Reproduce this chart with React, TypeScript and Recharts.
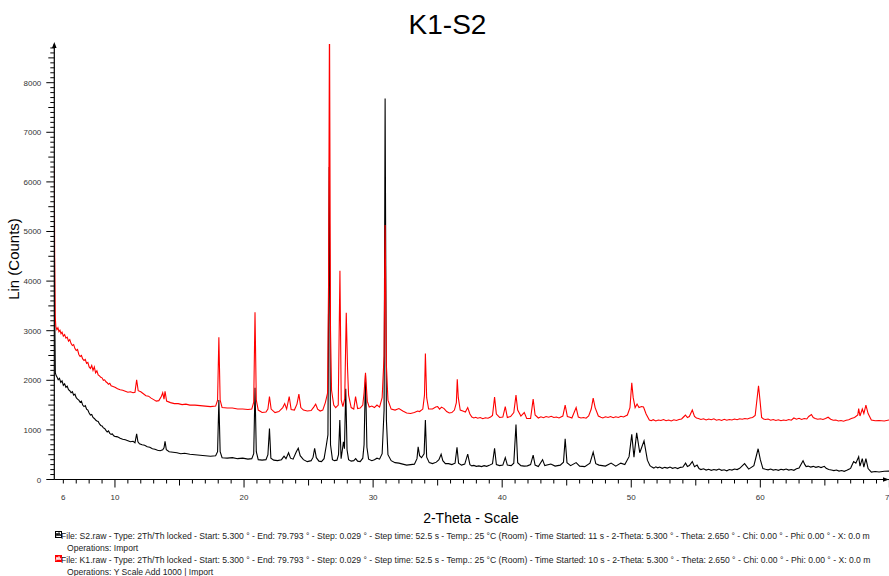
import React from "react";
import { LineChart, Line, XAxis, YAxis } from "recharts";

// ---- data ----
const TITLE = "K1-S2";
const X_LABEL = "2-Theta - Scale";
const Y_LABEL = "Lin (Counts)";
const X_TICK_LABELS = [6, 10, 20, 30, 40, 50, 60, 70];
const Y_TICK_LABELS = [0, 1000, 2000, 3000, 4000, 5000, 6000, 7000, 8000];
const X_DOMAIN: [number, number] = [5.3, 70];
const Y_DOMAIN: [number, number] = [0, 8780];

// S2.raw (black) : [2-theta, counts]
const S2_POINTS: [number, number][] = [
  [5.30, 5200], [5.34, 3200], [5.38, 2150], [5.45, 2090], [5.52, 2060], [5.60, 2010], [5.70, 2040],
  [5.80, 1960], [5.90, 1990], [6.00, 1900], [6.10, 1930], [6.20, 1860], [6.30, 1880], [6.40, 1810],
  [6.50, 1790], [6.60, 1750], [6.70, 1770], [6.80, 1700], [6.90, 1720], [7.00, 1650], [7.10, 1620],
  [7.20, 1600], [7.30, 1560], [7.40, 1580], [7.50, 1500], [7.60, 1470], [7.70, 1490], [7.80, 1420],
  [7.90, 1400], [8.00, 1340], [8.10, 1300], [8.20, 1310], [8.30, 1250], [8.40, 1230], [8.50, 1200],
  [8.60, 1180], [8.70, 1170], [8.80, 1120], [8.90, 1090], [9.00, 1080], [9.10, 1040], [9.20, 1030],
  [9.30, 990], [9.40, 960], [9.50, 980], [9.60, 930], [9.70, 910], [9.80, 920], [9.90, 880],
  [10.0, 870], [10.2, 860], [10.4, 830], [10.6, 810], [10.8, 800], [11.0, 780], [11.2, 760],
  [11.4, 770], [11.55, 740], [11.68, 920], [11.78, 760], [11.9, 720], [12.1, 700], [12.3, 690],
  [12.5, 660], [12.7, 650], [12.9, 620], [13.1, 610], [13.3, 590], [13.5, 580], [13.7, 600],
  [13.8, 640], [13.88, 770], [13.98, 600], [14.2, 560], [14.5, 550], [14.8, 540], [15.1, 520],
  [15.4, 530], [15.8, 510], [16.2, 500], [16.6, 490], [17.0, 480], [17.4, 470], [17.8, 480],
  [17.95, 560], [18.05, 1600], [18.15, 560], [18.3, 440], [18.7, 430], [19.1, 440], [19.5, 420],
  [19.9, 430], [20.3, 410], [20.6, 420], [20.75, 520], [20.85, 1850], [20.95, 560], [21.1, 400],
  [21.4, 390], [21.7, 400], [21.85, 500], [21.97, 1030], [22.08, 430], [22.3, 390], [22.6, 380],
  [22.9, 400], [23.1, 470], [23.25, 420], [23.45, 540], [23.6, 430], [23.8, 410], [24.05, 560],
  [24.2, 630], [24.35, 480], [24.6, 400], [24.9, 360], [25.2, 380], [25.35, 450], [25.47, 630],
  [25.6, 440], [25.8, 370], [26.0, 360], [26.2, 420], [26.37, 680], [26.5, 900], [26.6, 6300],
  [26.7, 700], [26.85, 400], [27.0, 380], [27.2, 390], [27.32, 500], [27.42, 1200], [27.52, 420],
  [27.62, 600], [27.7, 760], [27.78, 620], [27.88, 1830], [27.98, 600], [28.1, 400], [28.3, 370],
  [28.5, 380], [28.65, 420], [28.8, 370], [29.0, 360], [29.2, 430], [29.3, 700], [29.41, 2100],
  [29.52, 650], [29.65, 410], [29.9, 380], [30.1, 400], [30.3, 430], [30.5, 410], [30.7, 520],
  [30.85, 1400], [30.93, 7680], [31.03, 1200], [31.15, 500], [31.4, 380], [31.7, 340], [32.0, 330],
  [32.3, 310], [32.6, 290], [32.9, 300], [33.2, 310], [33.4, 420], [33.49, 660], [33.6, 480],
  [33.75, 440], [33.95, 520], [34.05, 1200], [34.15, 450], [34.35, 340], [34.6, 320], [34.9, 350],
  [35.1, 400], [35.27, 510], [35.4, 380], [35.6, 320], [35.85, 320], [36.1, 300], [36.35, 330],
  [36.5, 650], [36.62, 330], [36.85, 290], [37.1, 310], [37.33, 510], [37.5, 300], [37.65, 275],
  [37.8, 285], [38.0, 265], [38.2, 275], [38.4, 260], [38.6, 280], [38.8, 265], [39.0, 285],
  [39.25, 320], [39.41, 630], [39.55, 300], [39.8, 280],
  [40.05, 290], [40.24, 440], [40.4, 290], [40.7, 280], [40.9, 330], [41.07, 1110], [41.2, 340],
  [41.45, 280], [41.7, 270], [41.95, 275], [42.2, 300], [42.4, 490], [42.55, 290], [42.8, 260],
  [43.13, 400], [43.3, 280], [43.77, 312], [44.1, 270], [44.5, 290], [44.75, 350], [44.88, 820],
  [45.02, 340], [45.3, 280], [45.73, 340], [46.0, 270], [46.4, 260], [46.8, 330], [47.05, 550],
  [47.25, 320], [47.5, 290], [48.0, 270], [48.44, 330], [48.8, 270], [49.19, 330], [49.5, 300],
  [49.83, 460], [50.04, 910], [50.21, 450], [50.42, 940], [50.66, 540], [50.99, 780], [51.25, 390],
  [51.45, 280], [51.6, 250], [51.75, 230], [51.9, 255], [52.05, 235], [52.2, 250], [52.4, 225],
  [52.6, 245], [52.8, 230], [53.0, 250], [53.2, 225], [53.4, 240], [53.6, 220], [53.8, 245],
  [54.0, 250], [54.21, 330], [54.35, 260], [54.5, 280], [54.73, 360], [54.9, 260], [55.1, 290],
  [55.25, 220], [55.4, 200], [55.6, 215], [55.8, 190], [56.0, 205], [56.2, 185], [56.4, 200],
  [56.6, 190], [56.8, 210], [57.0, 185], [57.2, 195], [57.4, 175], [57.6, 200], [57.8, 190],
  [58.0, 210], [58.2, 200], [58.4, 225], [58.78, 320], [59.1, 210], [59.5, 280], [59.83, 620],
  [60.0, 400], [60.2, 220], [60.4, 205], [60.6, 195], [60.8, 210], [61.0, 190], [61.2, 200],
  [61.4, 185], [61.6, 205], [61.8, 195], [62.0, 210], [62.2, 190], [62.4, 200], [62.6, 185],
  [62.8, 215], [63.0, 230], [63.31, 380], [63.45, 300], [63.55, 260], [63.7, 270], [63.9, 250],
  [64.1, 265], [64.3, 245], [64.5, 260], [64.7, 240], [64.96, 265], [65.1, 225], [65.3, 200],
  [65.5, 190], [65.7, 180], [65.9, 190], [66.1, 170], [66.3, 180], [66.5, 165], [66.7, 185],
  [66.9, 210], [67.0, 230], [67.23, 360], [67.4, 330], [67.62, 460], [67.72, 270], [67.9, 420],
  [68.02, 250], [68.18, 420], [68.35, 220], [68.6, 150], [68.9, 160], [69.2, 150], [69.6, 165], [70.0, 170],
];

// K1.raw (red) : [2-theta, counts as plotted, i.e. after "Y Scale Add 1000"]
const K1_POINTS: [number, number][] = [
  [5.30, 6300], [5.33, 4500], [5.37, 3300], [5.42, 3080], [5.50, 3020], [5.58, 3060], [5.66, 2980],
  [5.74, 3010], [5.82, 2940], [5.90, 2970], [6.00, 2890], [6.10, 2920], [6.20, 2850], [6.30, 2870],
  [6.40, 2790], [6.50, 2820], [6.60, 2740], [6.70, 2700], [6.80, 2720], [6.90, 2640], [7.00, 2600],
  [7.10, 2620], [7.20, 2520], [7.30, 2480], [7.40, 2500], [7.50, 2430], [7.60, 2400], [7.70, 2420],
  [7.80, 2340], [7.90, 2360], [8.00, 2270], [8.10, 2240], [8.20, 2300], [8.30, 2200], [8.40, 2270],
  [8.50, 2150], [8.60, 2190], [8.70, 2110], [8.80, 2090], [8.90, 2060], [9.00, 2050], [9.10, 2000],
  [9.20, 2010], [9.30, 1970], [9.40, 1950], [9.50, 1920], [9.60, 1940], [9.70, 1890], [9.80, 1880],
  [9.90, 1870], [10.0, 1860], [10.2, 1830], [10.4, 1810], [10.6, 1800], [10.8, 1780], [11.0, 1760],
  [11.2, 1770], [11.4, 1750], [11.55, 1760], [11.68, 2010], [11.8, 1790], [12.0, 1770], [12.2, 1730],
  [12.4, 1690], [12.6, 1680], [12.8, 1640], [13.0, 1610], [13.2, 1580], [13.4, 1590], [13.6, 1680],
  [13.7, 1750], [13.8, 1620], [13.88, 1780], [14.0, 1580], [14.3, 1550], [14.6, 1530], [14.9, 1530],
  [15.2, 1510], [15.5, 1520], [15.8, 1500], [16.2, 1500], [16.6, 1490], [17.0, 1480], [17.4, 1470],
  [17.8, 1480], [17.95, 1600], [18.05, 2870], [18.15, 1600], [18.3, 1450], [18.7, 1440], [19.1, 1440],
  [19.5, 1420], [19.9, 1420], [20.3, 1410], [20.6, 1420], [20.75, 1560], [20.85, 3370], [20.95, 1600],
  [21.1, 1400], [21.4, 1350], [21.7, 1360], [21.85, 1420], [21.97, 1670], [22.1, 1420], [22.4, 1350],
  [22.7, 1370], [23.0, 1450], [23.15, 1530], [23.3, 1420], [23.5, 1670], [23.65, 1410], [23.9, 1400],
  [24.1, 1520], [24.25, 1720], [24.4, 1450], [24.6, 1400], [24.9, 1380], [25.2, 1390], [25.4, 1460],
  [25.55, 1520], [25.7, 1420], [25.9, 1380], [26.1, 1400], [26.3, 1550], [26.47, 1740], [26.55, 4000],
  [26.62, 9500], [26.7, 3000], [26.78, 1800], [26.95, 1500], [27.1, 1450], [27.3, 1500], [27.43, 4210],
  [27.53, 1600], [27.66, 1470], [27.8, 1630], [27.92, 3360], [28.02, 2240], [28.1, 1700], [28.3, 1450],
  [28.5, 1420], [28.64, 1670], [28.8, 1430], [29.0, 1440], [29.2, 1500], [29.3, 1750], [29.41, 2150],
  [29.55, 1580], [29.7, 1460], [29.9, 1480], [30.1, 1450], [30.3, 1500], [30.5, 1460], [30.7, 1650],
  [30.85, 2500], [30.93, 5130], [31.03, 2300], [31.15, 1600], [31.4, 1420], [31.7, 1400], [32.0, 1430],
  [32.3, 1380], [32.6, 1340], [32.9, 1330], [33.2, 1350], [33.45, 1380], [33.6, 1370], [33.85, 1420],
  [33.98, 1700], [34.05, 2540], [34.15, 1650], [34.3, 1420], [34.6, 1420], [34.85, 1460], [35.0, 1470],
  [35.15, 1420], [35.3, 1460], [35.5, 1430], [35.7, 1370], [35.9, 1340], [36.1, 1350], [36.3, 1400],
  [36.45, 1550], [36.52, 2020], [36.6, 1650], [36.75, 1400], [36.95, 1380], [37.15, 1360], [37.33, 1450],
  [37.5, 1320], [37.65, 1260], [37.8, 1240], [37.95, 1255], [38.1, 1235], [38.3, 1250], [38.5, 1225],
  [38.7, 1245], [38.9, 1235], [39.1, 1260], [39.25, 1290], [39.41, 1660],
  [39.55, 1320], [39.8, 1250], [40.05, 1260], [40.24, 1470], [40.4, 1250], [40.65, 1270], [40.9, 1350],
  [41.07, 1700], [41.2, 1400], [41.45, 1280], [41.71, 1350], [41.9, 1230], [42.2, 1230], [42.4, 1620],
  [42.55, 1300], [42.8, 1240], [43.0, 1265], [43.2, 1245], [43.4, 1270], [43.6, 1255], [43.8, 1275],
  [44.0, 1250], [44.2, 1260], [44.4, 1240], [44.7, 1280],
  [44.88, 1500], [45.05, 1270], [45.25, 1255], [45.4, 1240], [45.73, 1450], [45.9, 1260], [46.1, 1240],
  [46.3, 1250], [46.5, 1235], [46.7, 1280],
  [46.9, 1420], [47.05, 1640], [47.2, 1450], [47.45, 1280], [47.65, 1255], [47.8, 1240], [48.0, 1265],
  [48.2, 1250], [48.4, 1270], [48.6, 1245],
  [48.8, 1265], [49.0, 1250], [49.2, 1275], [49.4, 1260], [49.7, 1300], [49.9, 1450], [50.04, 1950],
  [50.15, 1650], [50.3, 1450],
  [50.45, 1520], [50.6, 1450], [50.8, 1470], [50.95, 1460], [51.15, 1320], [51.4, 1200], [51.55, 1185],
  [51.7, 1205], [51.9, 1180], [52.1, 1200], [52.3, 1190], [52.5, 1210], [52.7, 1185], [52.9, 1200],
  [53.1, 1180], [53.3, 1205], [53.5, 1190], [53.7, 1210], [53.9, 1220], [54.05, 1260], [54.2, 1300],
  [54.35, 1250], [54.5, 1270], [54.73, 1400], [54.9, 1270], [55.05, 1240], [55.2, 1230], [55.4, 1210],
  [55.6, 1225], [55.8, 1200], [56.0, 1220], [56.2, 1205], [56.4, 1225], [56.6, 1195], [56.8, 1210],
  [57.0, 1190], [57.2, 1215], [57.4, 1195], [57.6, 1210], [57.8, 1200], [58.0, 1220], [58.2, 1205],
  [58.4, 1225], [58.6, 1215], [58.8, 1230], [59.0, 1220], [59.2, 1240], [59.4, 1250], [59.6, 1290],
  [59.86, 1890], [59.98, 1580], [60.1, 1250], [60.25, 1220], [60.4, 1210], [60.6, 1220], [60.8, 1195],
  [61.0, 1210], [61.2, 1190], [61.4, 1205], [61.6, 1185], [61.8, 1200], [62.0, 1190], [62.2, 1210],
  [62.4, 1195], [62.6, 1240], [62.8, 1215], [63.0, 1235], [63.2, 1210], [63.4, 1230], [63.6, 1220],
  [63.75, 1270], [63.96, 1310], [64.1, 1250], [64.25, 1230], [64.45, 1215], [64.65, 1225], [64.85, 1210],
  [65.05, 1230], [65.25, 1255], [65.45, 1215], [65.65, 1195], [65.85, 1200], [66.05, 1180], [66.25, 1190],
  [66.45, 1175], [66.65, 1195], [66.85, 1205], [67.05, 1230], [67.3, 1250],
  [67.55, 1300], [67.62, 1430], [67.72, 1280], [67.9, 1420], [68.02, 1330], [68.18, 1500], [68.35, 1330],
  [68.6, 1200], [68.9, 1185], [69.2, 1190], [69.6, 1180], [70.0, 1200],
];

const LEGEND_S2 = [
  "File: S2.raw - Type: 2Th/Th locked - Start: 5.300 \u00b0 - End: 79.793 \u00b0 - Step: 0.029 \u00b0 - Step time: 52.5 s - Temp.: 25 \u00b0C (Room) - Time Started: 11 s - 2-Theta: 5.300 \u00b0 - Theta: 2.650 \u00b0 - Chi: 0.00 \u00b0 - Phi: 0.00 \u00b0 - X: 0.0 m",
  "Operations: Import",
];
const LEGEND_K1 = [
  "File: K1.raw - Type: 2Th/Th locked - Start: 5.300 \u00b0 - End: 79.793 \u00b0 - Step: 0.029 \u00b0 - Step time: 52.5 s - Temp.: 25 \u00b0C (Room) - Time Started: 10 s - 2-Theta: 5.300 \u00b0 - Theta: 2.650 \u00b0 - Chi: 0.00 \u00b0 - Phi: 0.00 \u00b0 - X: 0.0 m",
  "Operations: Y Scale Add 1000 | Import",
];

const FONT = 'Arial, "Liberation Sans", sans-serif';
const TICK_COLOR = "#333";

const s2Data = S2_POINTS.map(([t, c]) => ({ t, c }));
const k1Data = K1_POINTS.map(([t, c]) => ({ t, c }));

// minor tick positions (every 1 degree / every 100 counts)
const xTickPositions: number[] = [];
for (let v = 6; v <= 70; v += 1) xTickPositions.push(v);
const yTickPositions: number[] = [];
for (let v = 0; v <= 8700; v += 100) yTickPositions.push(v);

const XTick = (props: any) => {
  const { x, y, payload } = props;
  const v = Math.round(payload.value);
  const len = v % 10 === 0 ? 8 : v % 5 === 0 ? 6 : 4;
  const showLabel = X_TICK_LABELS.includes(v);
  return (
    <g>
      <line x1={x} y1={y} x2={x} y2={y + len} stroke="#000" strokeWidth={1} />
      {showLabel && (
        <text x={x} y={y + 20.5} textAnchor="middle" fontSize={8} fill={TICK_COLOR} fontFamily={FONT}>
          {v}
        </text>
      )}
    </g>
  );
};

const YTick = (props: any) => {
  const { x, y, payload } = props;
  const v = Math.round(payload.value);
  const len = v % 1000 === 0 ? 8 : v % 500 === 0 ? 6 : 4;
  const showLabel = Y_TICK_LABELS.includes(v);
  return (
    <g>
      <line x1={x} y1={y} x2={x - len} y2={y} stroke="#000" strokeWidth={1} />
      {showLabel && (
        <text x={x - 13} y={y + 3} textAnchor="end" fontSize={8} fill={TICK_COLOR} fontFamily={FONT}>
          {v}
        </text>
      )}
    </g>
  );
};

const LegendIcon = ({ color, filled, top }: { color: string; filled: boolean; top: number }) => (
  <svg width={7} height={7} style={{ position: "absolute", left: 55, top }}>
    <rect x={0.5} y={0.5} width={6} height={6} fill={filled ? color : "#fff"} stroke={color} strokeWidth={1} />
    <polyline points="1,5.5 2,2 3,5 4,1.5 5,5 6,3" fill="none" stroke={filled ? "#fff" : color} strokeWidth={0.9} />
  </svg>
);

const legendText: React.CSSProperties = {
  position: "absolute",
  fontSize: 8.6,
  whiteSpace: "nowrap",
  color: "#222",
  fontFamily: FONT,
  lineHeight: "10px",
};

export default function App() {
  return (
    <div
      style={{
        position: "fixed",
        left: 0,
        top: 0,
        width: 889,
        height: 576,
        overflow: "hidden",
        background: "#fff",
        fontFamily: FONT,
      }}
    >
      <div style={{ position: "absolute", left: 0, top: 0 }}>
        <LineChart width={920} height={576} margin={{ top: 44, right: 30.6, bottom: 0, left: 0 }}>
          <XAxis
            type="number"
            dataKey="t"
            domain={X_DOMAIN}
            allowDataOverflow
            ticks={xTickPositions}
            interval={0}
            tick={(p: any) => <XTick {...p} />}
            tickLine={false}
            tickSize={0}
            tickMargin={0}
            height={96.5}
            axisLine={{ stroke: "#000", strokeWidth: 1.2 }}
          />
          <YAxis
            type="number"
            domain={Y_DOMAIN}
            allowDataOverflow
            ticks={yTickPositions}
            interval={0}
            tick={(p: any) => <YTick {...p} />}
            tickLine={false}
            tickSize={0}
            tickMargin={0}
            width={54.3}
            axisLine={{ stroke: "#000", strokeWidth: 1.2 }}
          />
          <Line
            data={s2Data}
            dataKey="c"
            type="linear"
            stroke="#000000"
            strokeWidth={1.1}
            dot={false}
            activeDot={false}
            isAnimationActive={false}
          />
          <Line
            data={k1Data}
            dataKey="c"
            type="linear"
            stroke="#ff0000"
            strokeWidth={1.1}
            dot={false}
            activeDot={false}
            isAnimationActive={false}
          />
        </LineChart>
      </div>

      {/* axis arrows */}
      <svg width={889} height={576} style={{ position: "absolute", left: 0, top: 0, pointerEvents: "none" }}>
        <polygon points="54.3,42 52,48 56.6,48" fill="#000" />
        <polygon points="889,479.5 883,477.2 883,481.8" fill="#000" />
      </svg>

      <div
        style={{
          position: "absolute",
          left: 347.5,
          width: 200,
          top: 8,
          textAlign: "center",
          fontSize: 28,
          lineHeight: "34px",
          color: "#000",
        }}
      >
        {TITLE}
      </div>

      <div
        style={{
          position: "absolute",
          left: 371,
          width: 200,
          top: 510,
          textAlign: "center",
          fontSize: 14,
          lineHeight: "17px",
          color: "#000",
        }}
      >
        {X_LABEL}
      </div>

      <div
        style={{
          position: "absolute",
          left: 13.5 - 60,
          top: 259 - 9,
          width: 120,
          textAlign: "center",
          fontSize: 15,
          lineHeight: "18px",
          transform: "rotate(-90deg)",
          color: "#000",
        }}
      >
        {Y_LABEL}
      </div>

      <LegendIcon color="#000" filled={false} top={530.5} />
      <div style={{ ...legendText, left: 61, top: 531 }}>{LEGEND_S2[0]}</div>
      <div style={{ ...legendText, left: 67, top: 543.3 }}>{LEGEND_S2[1]}</div>
      <LegendIcon color="#ff0000" filled={true} top={554.5} />
      <div style={{ ...legendText, left: 61, top: 555 }}>{LEGEND_K1[0]}</div>
      <div style={{ ...legendText, left: 67, top: 567.3 }}>{LEGEND_K1[1]}</div>
    </div>
  );
}
